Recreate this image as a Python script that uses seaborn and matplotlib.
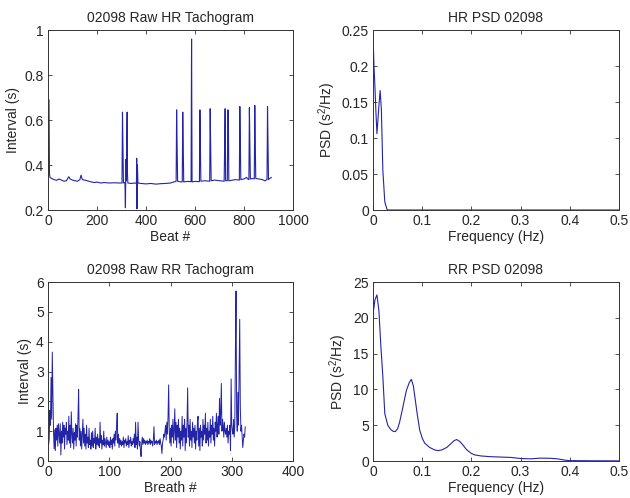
import matplotlib
matplotlib.use("Agg")
import matplotlib.pyplot as plt
import seaborn as sns
import pandas as pd

# ---------------- data ----------------
hr_beat = [0, 4, 6, 8, 15, 25, 35, 45, 50, 55, 65, 75, 85, 90, 100, 110, 120, 130, 135, 140,
           150, 160, 175, 190, 200, 215, 230, 250, 270, 290, 302, 304, 306, 308, 314, 316, 318, 320,
           323, 324, 326, 340, 355, 361, 362, 363, 365, 367, 380, 400, 420, 440, 460, 480, 500,
           515, 523, 525, 527, 529, 540, 548, 550, 552, 554, 570, 584, 586, 588, 600, 618, 620,
           622, 624, 640, 660, 662, 664, 666, 680, 700, 719, 721, 723, 725, 732, 734, 736, 738,
           750, 765, 781, 783, 785, 787, 800, 810, 815, 820, 822, 824, 826, 835, 842, 844, 846,
           848, 860, 875, 885, 894, 896, 898, 900, 905, 912]
hr_interval = [0.36, 0.69, 0.36, 0.345, 0.34, 0.335, 0.332, 0.338, 0.335, 0.333, 0.328, 0.33,
               0.348, 0.338, 0.333, 0.33, 0.328, 0.335, 0.355, 0.335, 0.333, 0.33, 0.325, 0.322,
               0.324, 0.32, 0.322, 0.32, 0.321, 0.32, 0.32, 0.635, 0.475, 0.32, 0.322, 0.21, 0.425,
               0.33, 0.635, 0.37, 0.32, 0.318, 0.32, 0.318, 0.43, 0.205, 0.40, 0.32, 0.318, 0.316,
               0.318, 0.315, 0.317, 0.318, 0.32, 0.325, 0.328, 0.645, 0.485, 0.328, 0.325, 0.325,
               0.635, 0.475, 0.325, 0.327, 0.326, 0.96, 0.325, 0.327, 0.326, 0.645, 0.48, 0.328,
               0.33, 0.328, 0.65, 0.48, 0.33, 0.333, 0.33, 0.328, 0.48, 0.65, 0.33, 0.33, 0.645,
               0.64, 0.33, 0.332, 0.335, 0.333, 0.66, 0.495, 0.335, 0.338, 0.345, 0.338, 0.335,
               0.655, 0.49, 0.338, 0.34, 0.338, 0.665, 0.495, 0.34, 0.338, 0.335, 0.33, 0.335,
               0.66, 0.495, 0.335, 0.34, 0.345]

hr_freq = [0.0, 0.001, 0.002, 0.004, 0.006, 0.008, 0.010, 0.012, 0.0145, 0.017, 0.020, 0.024, 0.029, 0.5]
hr_psd = [0.205, 0.222, 0.20, 0.17, 0.135, 0.106, 0.125, 0.145, 0.166, 0.14, 0.055, 0.011, 0.0, 0.0]

rr_interval = [
    0.60, 0.55, 0.75, 1.70, 1.20, 2.80, 1.40, 3.65, 2.30, 1.00, 0.40, 1.05, 0.35, 1.10, 0.70, 1.20, 0.50, 1.25, 0.90, 0.60,
    1.25, 0.20, 1.00, 0.60, 1.30, 0.80, 1.20, 0.40, 1.10, 0.90, 1.30, 0.55, 1.00, 0.70, 1.50, 0.60, 1.20, 0.45, 1.65, 0.90,
    0.60, 1.10, 0.40, 0.95, 0.70, 1.25, 0.50, 1.20, 0.80, 1.50, 2.40, 0.70, 1.10, 0.50, 1.00, 0.40, 0.90, 1.40, 0.60, 1.10,
    0.50, 0.90, 0.40, 1.20, 0.60, 0.80, 0.45, 1.10, 0.55, 0.70, 0.40, 0.95, 0.50, 1.00, 0.45, 0.75, 0.60, 1.10, 0.40, 0.80,
    0.55, 0.90, 0.50, 0.75, 0.45, 1.30, 0.60, 0.85, 0.40, 0.70, 0.55, 1.00, 0.50, 0.75, 0.60, 0.45, 0.80, 0.55, 0.70, 0.50,
    0.65, 0.45, 0.80, 0.55, 0.70, 0.40, 0.75, 0.60, 0.90, 0.50, 1.00, 0.70, 1.20, 1.60, 0.60, 0.90, 0.45, 0.75, 0.55, 0.70,
    0.50, 0.65, 0.55, 0.80, 0.45, 0.70, 0.60, 0.75, 0.50, 0.65, 0.55, 0.85, 0.45, 0.70, 0.60, 0.80, 0.50, 0.65, 0.55, 0.75,
    0.60, 0.90, 0.45, 1.30, 0.55, 0.80, 0.40, 1.30, 0.70, 0.50, 0.65, 0.35, 0.15, 0.60, 0.80, 0.55, 0.75, 0.60, 0.70, 0.55,
    0.65, 0.60, 0.70, 0.55, 0.65, 0.60, 0.75, 0.55, 0.70, 0.60, 0.65, 0.50, 0.70, 1.15, 0.55, 0.65, 0.60, 0.70, 0.55, 0.65,
    0.60, 0.70, 0.55, 0.75, 0.60, 0.50, 0.25, 0.60, 0.70, 0.90, 0.80, 1.00, 1.20, 0.70, 1.30, 0.90, 1.50, 2.55, 1.00, 0.60,
    1.10, 0.50, 1.20, 0.80, 1.40, 0.60, 1.00, 1.75, 0.70, 1.30, 0.45, 1.20, 0.80, 1.40, 0.60, 1.10, 0.40, 1.00, 0.70, 1.50,
    0.50, 1.20, 0.80, 1.40, 0.35, 1.10, 0.60, 1.30, 2.45, 0.80, 1.20, 0.50, 1.40, 0.70, 1.00, 0.45, 1.30, 0.80, 1.10, 0.60,
    1.20, 0.40, 1.00, 0.70, 1.30, 1.50, 0.50, 1.10, 0.35, 1.20, 0.80, 1.00, 0.50, 1.40, 0.70, 1.20, 0.90, 1.60, 0.60, 1.10,
    0.70, 1.30, 0.50, 1.00, 0.80, 1.40, 0.60, 1.20, 0.90, 1.50, 0.70, 1.10, 0.50, 1.30, 1.00, 1.60, 0.80, 1.20, 1.50, 0.90,
    2.10, 1.20, 1.60, 2.60, 1.00, 1.40, 1.20, 0.80, 1.30, 1.00, 0.90, 1.10, 0.80, 1.20, 0.60, 1.00, 0.90, 1.20, 0.35, 2.75,
    1.20, 1.00, 0.90, 1.40, 0.80, 1.20, 3.75, 5.70, 1.50, 1.00, 2.30, 1.20, 3.00, 4.75, 1.80, 1.00, 1.20, 0.80, 0.45, 0.70,
    0.90, 0.80, 1.15]
rr_breath = list(range(len(rr_interval)))

rr_freq = [0.0, 0.004, 0.008, 0.012, 0.016, 0.020, 0.024, 0.030, 0.036, 0.041, 0.045, 0.050, 0.054,
           0.060, 0.068, 0.074, 0.078, 0.082, 0.085, 0.090, 0.095, 0.100, 0.105, 0.115, 0.125, 0.132,
           0.140, 0.150, 0.158, 0.165, 0.170, 0.176, 0.182, 0.190, 0.200, 0.207, 0.220, 0.240, 0.260,
           0.280, 0.300, 0.320, 0.340, 0.360, 0.375, 0.390, 0.400, 0.450, 0.500]
rr_psd = [20.5, 22.5, 23.2, 21.0, 16.0, 11.8, 6.6, 5.0, 4.4, 4.15, 4.1, 4.5, 5.4,
          7.3, 9.9, 11.0, 11.4, 10.5, 9.0, 6.5, 4.3, 3.2, 2.5, 1.9, 1.55, 1.45,
          1.55, 1.9, 2.4, 2.85, 3.0, 2.75, 2.3, 1.6, 1.05, 0.85, 0.7, 0.6, 0.55,
          0.5, 0.35, 0.3, 0.4, 0.38, 0.3, 0.12, 0.05, 0.03, 0.02]

# ---------------- style ----------------
sns.set_theme(style="ticks")
plt.rcParams['font.family'] = ['Liberation Sans', 'DejaVu Sans']
plt.rcParams['mathtext.default'] = 'regular'
line_color = '#2424a8'
txt = '#262626'

fig = plt.figure(figsize=(6.3, 4.98), dpi=100)
W, H = 630.0, 498.0

def make_ax(l, t, r, b):
    return fig.add_axes([l / W, 1 - b / H, (r - l) / W, (b - t) / H])

ax1 = make_ax(48, 30, 293, 210)
ax2 = make_ax(373, 30, 619, 210)
ax3 = make_ax(48, 282, 293, 461)
ax4 = make_ax(373, 282, 619, 461)

df_hr = pd.DataFrame({"beat": hr_beat, "interval": hr_interval})
df_hrpsd = pd.DataFrame({"f": hr_freq, "p": hr_psd})
df_rr = pd.DataFrame({"breath": rr_breath, "interval": rr_interval})
df_rrpsd = pd.DataFrame({"f": rr_freq, "p": rr_psd})

kw = dict(color=line_color, sort=False, estimator=None)
sns.lineplot(data=df_hr, x="beat", y="interval", ax=ax1, linewidth=0.8, **kw)
sns.lineplot(data=df_hrpsd, x="f", y="p", ax=ax2, linewidth=0.8, **kw)
sns.lineplot(data=df_rr, x="breath", y="interval", ax=ax3, linewidth=0.7, **kw)
sns.lineplot(data=df_rrpsd, x="f", y="p", ax=ax4, linewidth=0.8, **kw)

def style(ax, title, xlabel, ylabel, xlim, ylim, xticks, xlabels, yticks, ylabels):
    ax.set_xlim(*xlim)
    ax.set_ylim(*ylim)
    ax.set_xticks(xticks)
    ax.set_xticklabels(xlabels)
    ax.set_yticks(yticks)
    ax.set_yticklabels(ylabels)
    ax.set_title(title, fontsize=10, color=txt, pad=6)
    ax.set_xlabel(xlabel, fontsize=10, color=txt, labelpad=1)
    ax.set_ylabel(ylabel, fontsize=10, color=txt, labelpad=3)
    ax.tick_params(direction='in', top=True, right=True, length=3, width=0.6,
                   labelsize=10, labelcolor=txt, colors='#333333', pad=3)
    for s in ax.spines.values():
        s.set_visible(True)
        s.set_linewidth(0.7)
        s.set_color('#333333')

style(ax1, "02098 Raw HR Tachogram", "Beat #", "Interval (s)", (0, 1000), (0.2, 1.0),
      [0, 200, 400, 600, 800, 1000], ["0", "200", "400", "600", "800", "1000"],
      [0.2, 0.4, 0.6, 0.8, 1.0], ["0.2", "0.4", "0.6", "0.8", "1"])
style(ax2, "HR PSD 02098", "Frequency (Hz)", "PSD (s$^2$/Hz)", (0, 0.5), (0, 0.25),
      [0, 0.1, 0.2, 0.3, 0.4, 0.5], ["0", "0.1", "0.2", "0.3", "0.4", "0.5"],
      [0, 0.05, 0.1, 0.15, 0.2, 0.25], ["0", "0.05", "0.1", "0.15", "0.2", "0.25"])
style(ax3, "02098 Raw RR Tachogram", "Breath #", "Interval (s)", (0, 400), (0, 6),
      [0, 100, 200, 300, 400], ["0", "100", "200", "300", "400"],
      [0, 1, 2, 3, 4, 5, 6], ["0", "1", "2", "3", "4", "5", "6"])
style(ax4, "RR PSD 02098", "Frequency (Hz)", "PSD (s$^2$/Hz)", (0, 0.5), (0, 25),
      [0, 0.1, 0.2, 0.3, 0.4, 0.5], ["0", "0.1", "0.2", "0.3", "0.4", "0.5"],
      [0, 5, 10, 15, 20, 25], ["0", "5", "10", "15", "20", "25"])

fig.savefig("out.png", dpi=100, facecolor='white')
